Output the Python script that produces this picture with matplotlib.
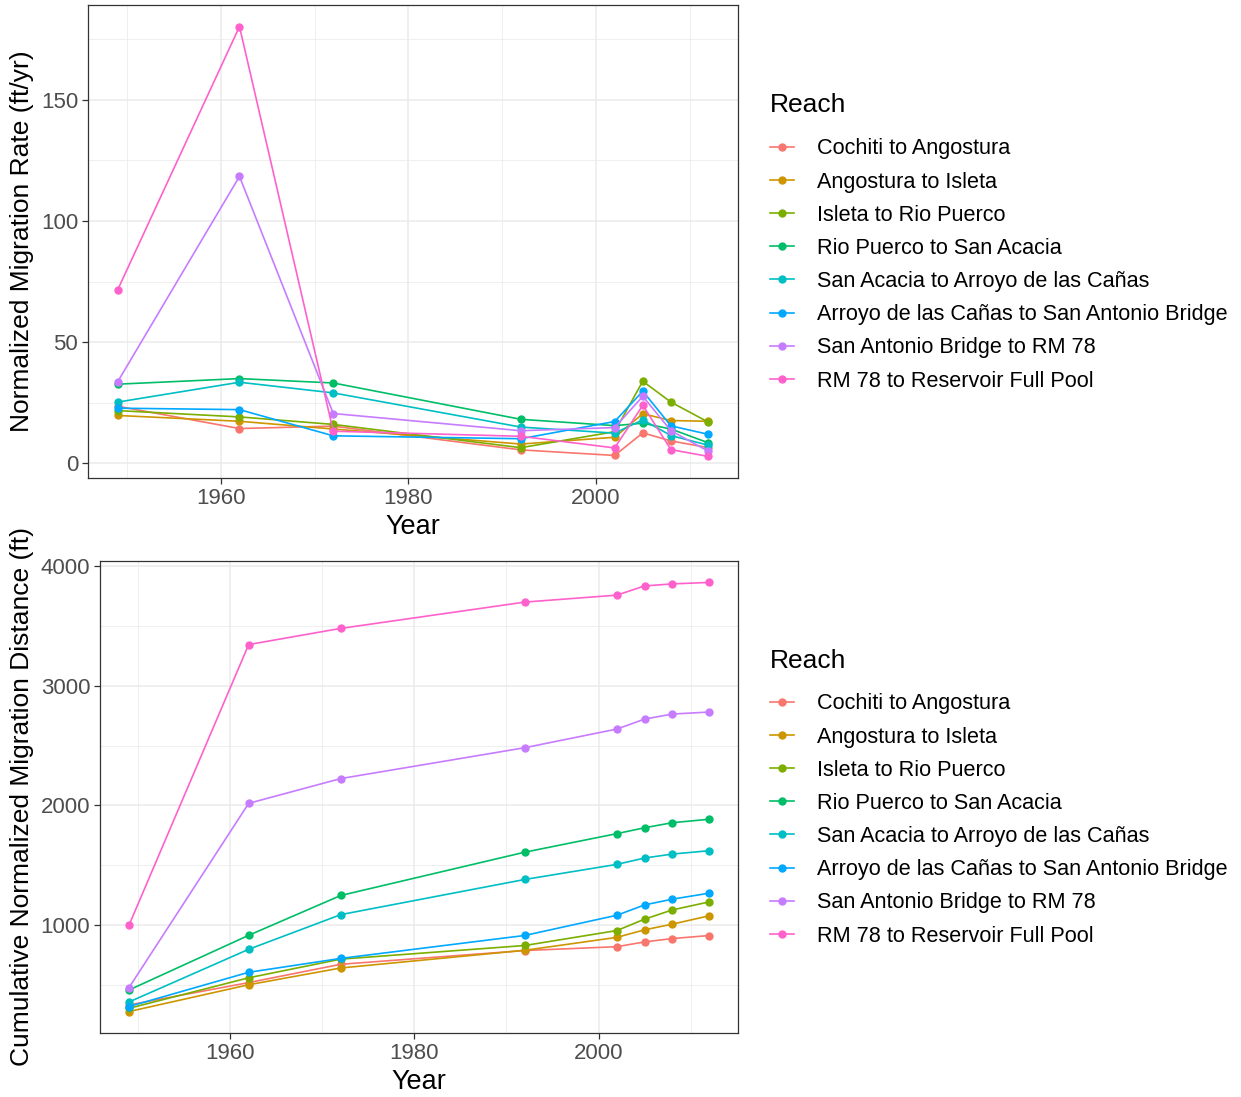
import matplotlib.pyplot as plt
from matplotlib.ticker import MultipleLocator

plt.rcParams['font.family'] = ['Liberation Sans', 'DejaVu Sans']

years = [1949, 1962, 1972, 1992, 2002, 2005, 2008, 2012]
reaches = [
    'Cochiti to Angostura',
    'Angostura to Isleta',
    'Isleta to Rio Puerco',
    'Rio Puerco to San Acacia',
    'San Acacia to Arroyo de las Cañas',
    'Arroyo de las Cañas to San Antonio Bridge',
    'San Antonio Bridge to RM 78',
    'RM 78 to Reservoir Full Pool',
]
colors = ['#F8766D', '#CD9600', '#7CAE00', '#00BE67',
          '#00BFC4', '#00A9FF', '#C77CFF', '#FF61CC']

# normalized migration rate (ft/yr) per reach
rate_cochiti = [23.6, 14.4, 15.4, 5.6, 3.3, 12.6, 9.3, 6.5]
rate_angostura = [19.8, 17.4, 14.2, 8.0, 10.8, 20.5, 17.7, 17.4]
rate_isleta = [21.8, 19.2, 16.1, 6.5, 13.1, 33.9, 25.3, 17.0]
rate_riopuerco = [32.7, 35.0, 33.2, 18.2, 15.6, 16.6, 14.2, 8.5]
rate_sanacacia = [25.3, 33.5, 29.1, 15.0, 12.5, 18.0, 11.5, 7.5]
rate_arroyo = [22.8, 22.2, 11.4, 10.2, 17.3, 29.8, 15.5, 12.0]
rate_sanantonio = [33.6, 118.4, 20.6, 13.5, 14.8, 27.7, 13.5, 5.0]
rate_rm78 = [71.5, 180.2, 13.3, 11.2, 6.4, 24.0, 5.7, 2.9]

# cumulative normalized migration distance (ft) per reach
cum_cochiti = [333, 520, 673, 788, 820, 860, 888, 913]
cum_angostura = [278, 502, 642, 790, 898, 961, 1008, 1078]
cum_isleta = [305, 560, 716, 830, 955, 1050, 1127, 1194]
cum_riopuerco = [458, 915, 1248, 1610, 1765, 1814, 1856, 1885]
cum_sanacacia = [358, 798, 1088, 1382, 1508, 1561, 1594, 1622]
cum_arroyo = [320, 606, 722, 914, 1083, 1169, 1217, 1267]
cum_sanantonio = [478, 2018, 2225, 2483, 2639, 2722, 2764, 2781]
cum_rm78 = [1000, 3345, 3480, 3700, 3758, 3835, 3852, 3864]

rates = [rate_cochiti, rate_angostura, rate_isleta, rate_riopuerco,
         rate_sanacacia, rate_arroyo, rate_sanantonio, rate_rm78]
cums = [cum_cochiti, cum_angostura, cum_isleta, cum_riopuerco,
        cum_sanacacia, cum_arroyo, cum_sanantonio, cum_rm78]

W, H = 1241, 1097
fig = plt.figure(figsize=(W / 100, H / 100), dpi=100)


def px_axes(left, top, right, bottom):
    return fig.add_axes([left / W, 1 - bottom / H, (right - left) / W, (bottom - top) / H])


def style(ax, ymajor, yminor):
    ax.xaxis.set_major_locator(MultipleLocator(20))
    ax.xaxis.set_minor_locator(MultipleLocator(10))
    ax.yaxis.set_major_locator(MultipleLocator(ymajor))
    ax.yaxis.set_minor_locator(MultipleLocator(yminor))
    ax.grid(which='major', color='#EBEBEB', lw=1.1)
    ax.grid(which='minor', color='#EBEBEB', lw=0.55)
    ax.set_axisbelow(True)
    for s in ax.spines.values():
        s.set_color('#333333')
        s.set_linewidth(0.9)
    ax.tick_params(which='major', length=4, width=0.9, color='#333333',
                   labelcolor='#4D4D4D', labelsize=16, pad=3)
    ax.tick_params(which='minor', length=0)
    ax.set_xlabel('Year', fontsize=19.5, labelpad=4)


def draw(ax, series, legend_top):
    for name, vals, c in zip(reaches, series, colors):
        ax.plot(years, vals, color=c, lw=1.2, marker='o', ms=5, label=name)
    ax.margins(x=0.05, y=0.05)
    leg = ax.legend(loc='upper left', bbox_to_anchor=(750 / W, 1 - legend_top / H),
                    bbox_transform=fig.transFigure, frameon=False, title='Reach',
                    fontsize=15.6, title_fontsize=19, handlelength=1.15,
                    labelspacing=0.562, handletextpad=1.02, alignment='left')
    # extra room between the title and the first entry
    leg._legend_box.sep = 15
    return leg


ax1 = px_axes(88, 5, 738, 478)
draw(ax1, rates, 74)
style(ax1, 50, 25)
ax1.set_ylim(-6, 189.1)
ax1.set_xlim(1945.85, 2015.15)

ax2 = px_axes(100, 561, 738, 1033)
draw(ax2, cums, 629)
style(ax2, 1000, 500)
ax2.set_xlim(1945.85, 2015.15)

fig.text(22 / W, 1 - 241 / H, 'Normalized Migration Rate (ft/yr)', rotation=90,
         ha='center', va='center', fontsize=19)
fig.text(22 / W, 1 - 797 / H, 'Cumulative Normalized Migration Distance (ft)', rotation=90,
         ha='center', va='center', fontsize=19)

fig.savefig('out.png', dpi=100, facecolor='white')
